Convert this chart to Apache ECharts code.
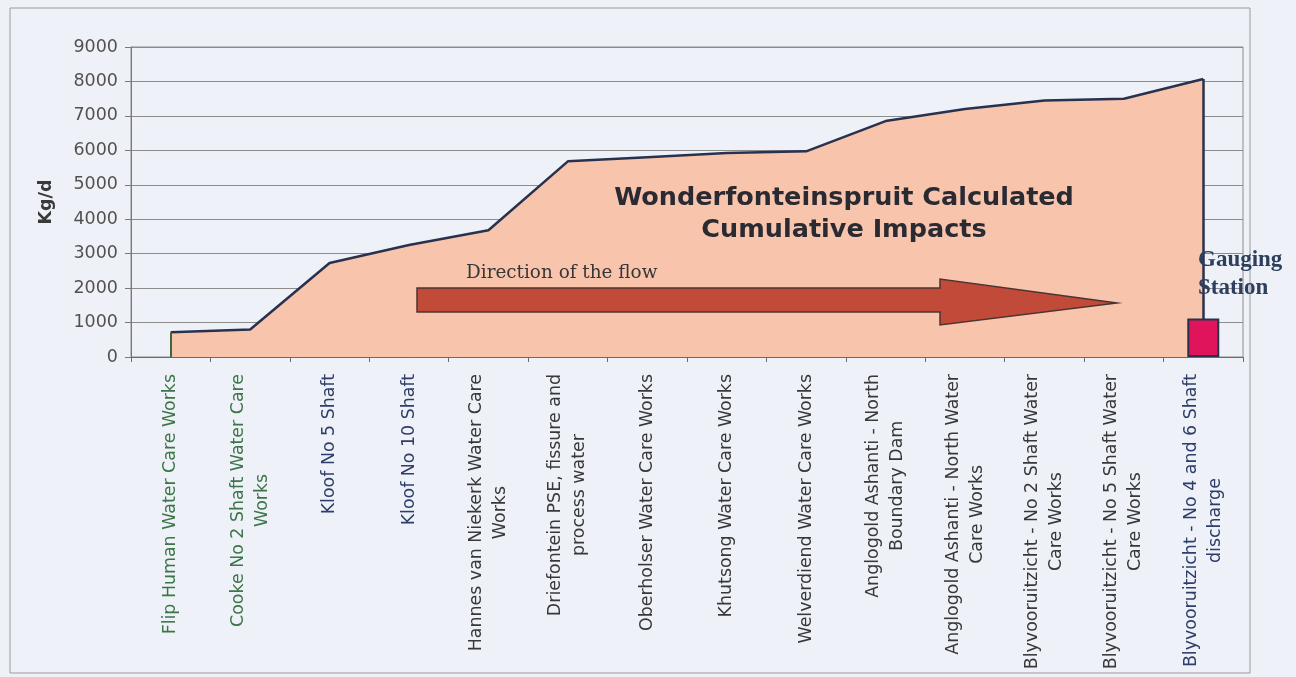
<!DOCTYPE html>
<html><head><meta charset="utf-8">
<script src="https://cdn.jsdelivr.net/npm/echarts@6/dist/echarts.min.js"></script>
<style>html,body{margin:0;padding:0;background:#eef2f8;}#c{width:1296px;height:677px;}</style>
</head><body><div id="c"></div>
<script>
const categories = [
  'Flip Human Water Care Works',
  'Cooke No 2 Shaft Water Care\nWorks',
  'Kloof No 5 Shaft',
  'Kloof No 10 Shaft',
  'Hannes van Niekerk Water Care\nWorks',
  'Driefontein PSE, fissure and\nprocess water',
  'Oberholser Water Care Works',
  'Khutsong Water Care Works',
  'Welverdiend Water Care Works',
  'Anglogold Ashanti - North\nBoundary Dam',
  'Anglogold Ashanti - North Water\nCare Works',
  'Blyvooruitzicht - No 2 Shaft Water\nCare Works',
  'Blyvooruitzicht - No 5 Shaft Water\nCare Works',
  'Blyvooruitzicht - No 4 and 6 Shaft\ndischarge'
];
const cumulativeLoad = [720, 800, 2730, 3250, 3680, 5680, 5800, 5920, 5970, 6850, 7200, 7450, 7500, 8070];
const gaugingStation = [null, null, null, null, null, null, null, null, null, null, null, null, null, 1120];
const labelColourKey = ['g', 'g', 'b', 'b', 'k', 'k', 'k', 'k', 'k', 'k', 'k', 'k', 'k', 'b'];
const yMin = 0, yMax = 9000, yInterval = 1000;
const yAxisTitle = 'Kg/d';
const chartTitle = 'Wonderfonteinspruit Calculated\nCumulative Impacts';
const flowText = 'Direction of the flow';
const stationText = 'Gauging\nStation';

const chart = echarts.init(document.getElementById('c'));
const lblBase = {fontFamily: 'DejaVu Sans', fontSize: 17.4, lineHeight: 24, align: 'center'};
const last = cumulativeLoad.length - 1;

chart.setOption({
  backgroundColor: '#eef2f8',
  animation: false,
  grid: {left: 131, right: 53, top: 47, bottom: 320, outerBoundsMode: 'none', containLabel: false, show: true, borderColor: '#8c8c8c', borderWidth: 1, backgroundColor: 'transparent'},
  xAxis: {
    type: 'category',
    data: categories,
    boundaryGap: true,
    axisLine: {lineStyle: {color: '#6a6a6a', width: 1}},
    axisTick: {show: true, length: 5, lineStyle: {color: '#6a6a6a'}},
    axisLabel: {
      interval: 0, rotate: 90, margin: 17,
      formatter: function (v, i) {
        return v.split('\n').map(function (l) { return '{' + labelColourKey[i] + '|' + l + '}'; }).join('\n');
      },
      rich: {
        g: Object.assign({color: '#3d7548'}, lblBase),
        b: Object.assign({color: '#2e3d6a'}, lblBase),
        k: Object.assign({color: '#383838'}, lblBase)
      }
    }
  },
  yAxis: {
    type: 'value', min: yMin, max: yMax, interval: yInterval,
    name: yAxisTitle, nameLocation: 'middle', nameGap: 76,
    nameTextStyle: {fontFamily: 'DejaVu Sans', fontWeight: 'bold', fontSize: 17.5, color: '#3a3a3a'},
    axisLine: {show: true, lineStyle: {color: '#7a7a7a'}},
    axisTick: {show: true, length: 6, lineStyle: {color: '#7a7a7a'}},
    axisLabel: {margin: 13, fontFamily: 'DejaVu Sans', fontSize: 17.5, color: '#555050', formatter: function (v) { return String(v); }},
    splitLine: {lineStyle: {color: '#8c8c8c', width: 1}}
  },
  series: [
    {
      type: 'line', data: cumulativeLoad, symbol: 'none', z: 2,
      lineStyle: {color: '#28324e', width: 2.5},
      areaStyle: {color: '#f9c4ac', opacity: 1},
      markLine: {
        silent: true, symbol: 'none', label: {show: false},
        data: [
          [{coord: [0, 0], lineStyle: {color: '#3a6a3a', width: 2, type: 'solid'}}, {coord: [0, cumulativeLoad[0]]}],
          [{coord: [last, 0], lineStyle: {color: '#28324e', width: 2.5, type: 'solid'}}, {coord: [last, cumulativeLoad[last]]}]
        ]
      }
    },
    {
      type: 'bar', data: gaugingStation, barWidth: 32, z: 5,
      itemStyle: {color: '#e0145a', borderColor: '#28324e', borderWidth: 2}
    }
  ],
  graphic: [
    {type: 'rect', shape: {x: 10, y: 8, width: 1240, height: 665}, style: {fill: 'none', stroke: '#9a9a9a', lineWidth: 1}, z: 0, silent: true},
    {type: 'text', x: 844, y: 214, z: 10, style: {text: chartTitle, fill: '#2a2a33', font: 'bold 25.5px "DejaVu Sans"', lineHeight: 32, align: 'center', verticalAlign: 'middle'}},
    {type: 'text', x: 466, y: 273, z: 10, style: {text: flowText, fill: '#363636', font: '18.4px "DejaVu Serif"', align: 'left', verticalAlign: 'middle'}},
    {type: 'polygon', z: 10, shape: {points: [[417, 288], [940, 288], [940, 279], [1117, 303], [940, 325], [940, 312], [417, 312]]}, style: {fill: '#c24a38', stroke: '#4a3434', lineWidth: 1.5}},
    {type: 'text', x: 1198, y: 274, z: 10, style: {text: stationText, fill: '#2e3f5e', font: 'bold 23px "Liberation Serif"', lineHeight: 28, align: 'left', verticalAlign: 'middle'}}
  ]
});
</script></body></html>
